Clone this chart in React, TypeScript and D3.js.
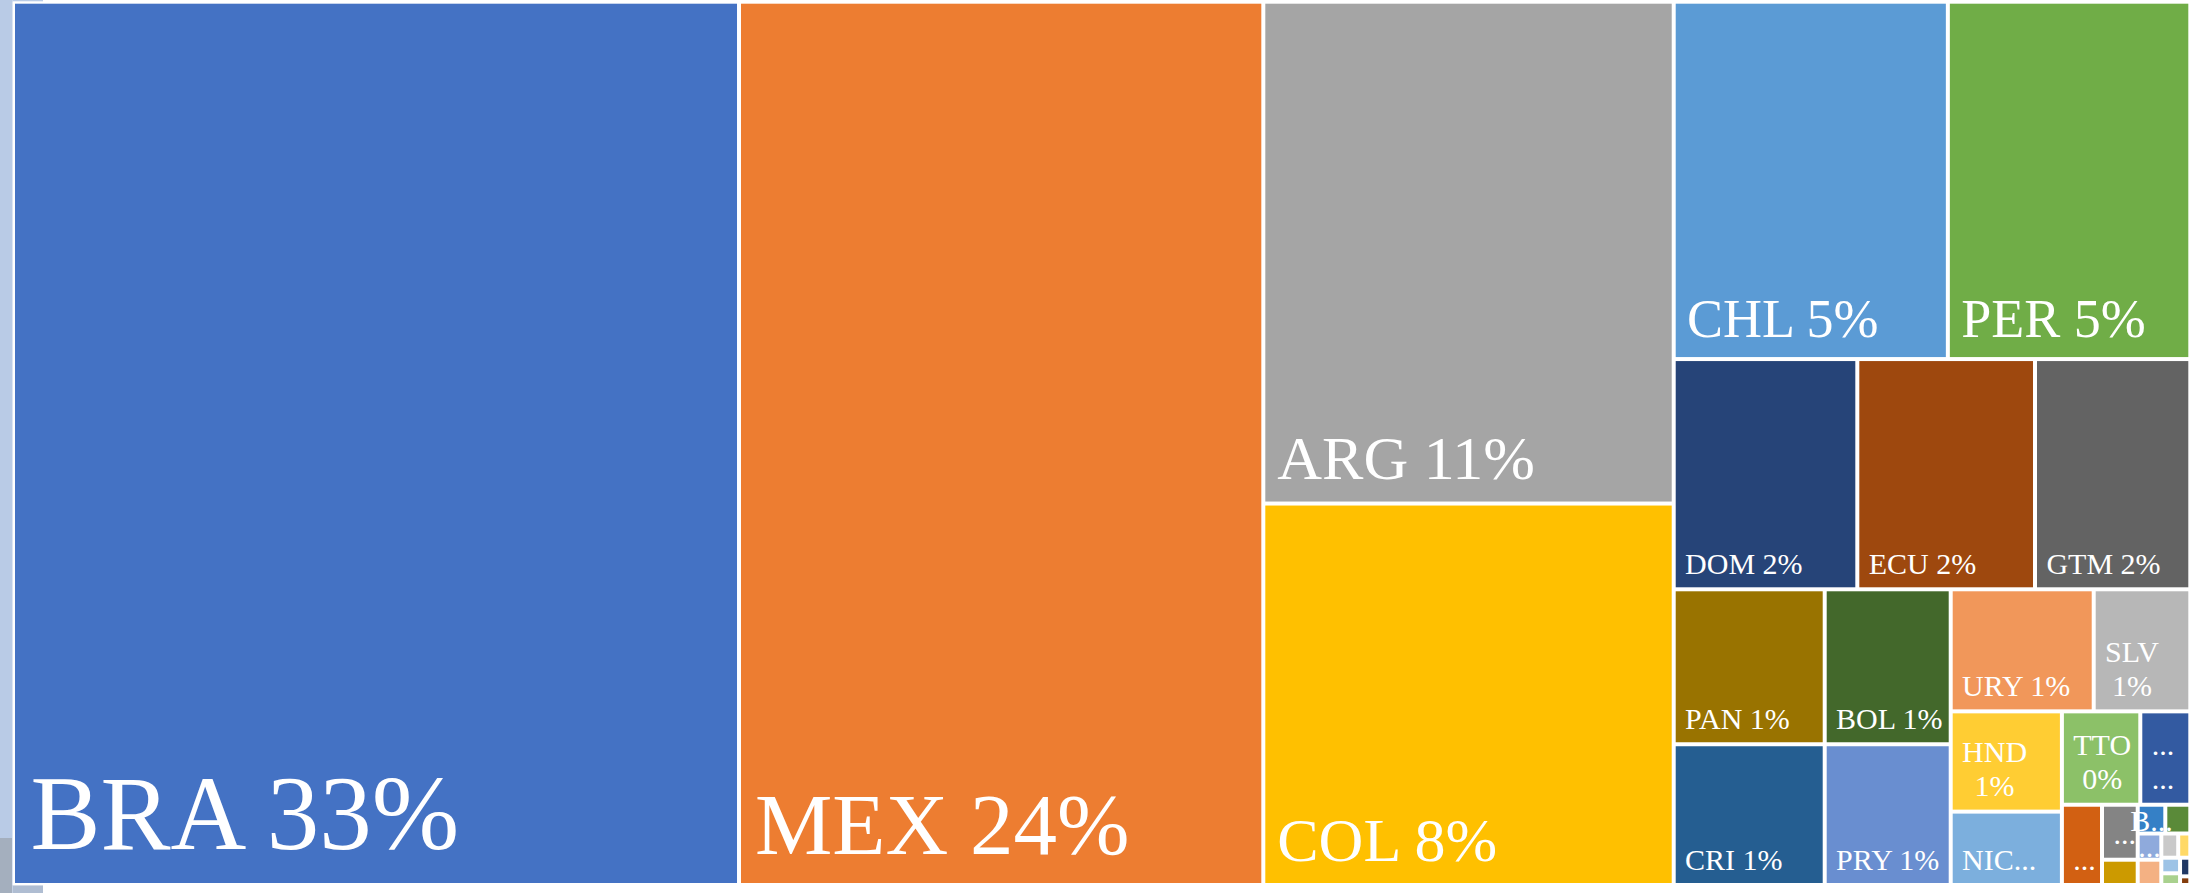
import React, { useMemo } from "react";
import * as d3 from "d3";

const WIDTH = 2203;
const HEIGHT = 893;

// Country codes, in data order (descending share)
const CODES = [
  "BRA", "MEX", "ARG", "COL", "CHL", "PER", "DOM", "ECU", "GTM", "PAN",
  "CRI", "BOL", "PRY", "URY", "SLV", "HND", "NIC", "TTO", "JAM", "HTI",
  "GUY", "SUR", "BHS", "BRB", "BLZ", "LCA", "ATG", "GRD", "VCT", "KNA",
  "DMA", "CUW",
];

// Share of total (percent)
const SHARES = [
  33.344, 24.08, 10.709, 8.14, 5.094, 4.505, 2.1978, 2.1272, 1.859, 1.2166,
  1.1051, 1.0152, 0.9221, 0.9076, 0.6131, 0.5797, 0.4243, 0.3806, 0.2428, 0.16737,
  0.10207, 0.04694, 0.0413, 0.0374, 0.03214, 0.03104, 0.02126, 0.01522, 0.01518, 0.01141,
  0.00994, 0.00461,
];

// Office default palette, in series order
const COLORS = [
  "#4472C4", "#ED7D31", "#A5A5A5", "#FFC000", "#5B9BD5", "#70AD47",
  "#264478", "#9E480E", "#636363", "#997300", "#255E91", "#43682B",
  "#698ED0", "#F1975A", "#B7B7B7", "#FFCD33", "#7CAFDD", "#8CC168",
  "#335AA1", "#D26012", "#848484", "#CC9A00", "#3580C6", "#5A8A39",
  "#8FAADC", "#F4B183", "#C9C9C9", "#FFD966", "#9DC3E6", "#A9D18E",
  "#203864", "#843C0C",
];

// Label font size steps by share (percent)
const FONT_BREAKS = [4, 8, 20, 30];
const FONT_SIZES = [30, 54, 62, 87, 105];

// Labels that Excel draws overflowing tiny cells
const OVERFLOW_LABELS: Record<string, string> = { BHS: "B...", BLZ: "..." };

const FRAME = { left: 13, top: 1.7, right: 2190.3, bottom: 885 };
const GAP = 2;
const FONT = '"Liberation Serif", "Times New Roman", serif';

let ctx: CanvasRenderingContext2D | null = null;
function measure(text: string, size: number): number {
  if (!ctx) ctx = document.createElement("canvas").getContext("2d");
  if (!ctx) return text.length * size * 0.55;
  ctx.font = `${size}px ${FONT}`;
  return ctx.measureText(text).width;
}

function truncate(text: string, size: number, avail: number): string | null {
  if (measure(text, size) <= avail) return text;
  for (let n = text.length - 1; n > 0; n--) {
    const t = text.slice(0, n).trimEnd() + "...";
    if (measure(t, size) <= avail) return t;
  }
  if (measure("...", size) <= avail) return "...";
  return null;
}

type Cell = {
  code: string;
  color: string;
  x: number;
  y: number;
  w: number;
  h: number;
  lines: string[];
  fs: number;
  overflow?: string;
};

export default function App() {
  const cells = useMemo<Cell[]>(() => {
    const data = CODES.map((code, i) => ({ code, value: SHARES[i], color: COLORS[i] }));
    const total = d3.sum(SHARES);
    const root = d3
      .hierarchy<any>({ children: data })
      .sum((d: any) => d.value || 0)
      .sort((a, b) => (b.value || 0) - (a.value || 0));
    d3
      .treemap<any>()
      .tile(d3.treemapSquarify.ratio(1))
      .size([FRAME.right - FRAME.left, FRAME.bottom - FRAME.top])
      .round(false)(root);

    const fontScale = d3.scaleThreshold<number, number>().domain(FONT_BREAKS).range(FONT_SIZES);
    const pct = d3.format(".0%");

    return (root.leaves() as any[]).map((leaf) => {
      const d = leaf.data;
      const x = FRAME.left + leaf.x0 + GAP;
      const y = FRAME.top + leaf.y0 + GAP;
      const w = leaf.x1 - leaf.x0 - 2 * GAP;
      const h = leaf.y1 - leaf.y0 - 2 * GAP;
      const fs = fontScale(d.value);
      const p = pct(d.value / total);
      const full = `${d.code} ${p}`;
      const avail = w - 13;
      const lineH = fs * 1.13;
      let lines: string[] = [];
      if (OVERFLOW_LABELS[d.code]) {
        lines = [];
      } else if (measure(full, fs) <= avail && h >= 40) {
        lines = [full];
      } else if (h >= 2 * lineH + 14) {
        const a = truncate(d.code, fs, avail) ?? (w >= 28 ? "..." : null);
        const b = truncate(p, fs, avail) ?? (w >= 28 ? "..." : null);
        lines = [a, b].filter((s): s is string => !!s);
      } else if (h >= 40) {
        const a = truncate(full, fs, avail) ?? (w >= 28 ? "..." : null);
        lines = a ? [a] : [];
      }
      return {
        code: d.code,
        color: d.color,
        x,
        y,
        w,
        h,
        lines,
        fs,
        overflow: OVERFLOW_LABELS[d.code],
      };
    });
  }, []);

  return (
    <svg
      width={WIDTH}
      height={HEIGHT}
      viewBox={`0 0 ${WIDTH} ${HEIGHT}`}
      style={{ position: "fixed", left: 0, top: 0, background: "#ffffff" }}
      fontFamily={FONT}
    >
      {/* background picture edges */}
      <rect x={0} y={0} width={12.7} height={HEIGHT} fill="#B9CBE6" />
      <rect x={0} y={838} width={12} height={HEIGHT - 838} fill="#A4AFBE" />
      <rect x={12.7} y={0} width={30.3} height={1.6} fill="#B9CBE6" />
      <rect x={12.7} y={885.3} width={30.3} height={HEIGHT - 885.3} fill="#AFBDD2" />
      {/* white frame */}
      <rect
        x={FRAME.left - 0.3}
        y={FRAME.top - 0.2}
        width={FRAME.right - FRAME.left + 0.6}
        height={FRAME.bottom - FRAME.top + 0.4}
        fill="#ffffff"
      />
      {cells.map((c) => (
        <rect key={c.code} x={c.x} y={c.y} width={Math.max(0, c.w)} height={Math.max(0, c.h)} fill={c.color} />
      ))}
      {cells.map((c) => {
        if (c.overflow) {
          return (
            <text
              key={c.code + "-t"}
              x={c.x + c.w / 2}
              y={c.y + c.h - 1}
              fontSize={c.fs}
              fill="#ffffff"
              textAnchor="middle"
            >
              {c.overflow}
            </text>
          );
        }
        if (!c.lines.length) return null;
        const pad = 7 + 0.08 * c.fs;
        const lineH = c.fs * 1.13;
        const base = c.y + c.h - (0.28 * c.fs + 5);
        if (c.lines.length === 1) {
          return (
            <text key={c.code + "-t"} x={c.x + pad} y={base} fontSize={c.fs} fill="#ffffff">
              {c.lines[0]}
            </text>
          );
        }
        const blockW = d3.max(c.lines, (l) => measure(l, c.fs)) || 0;
        const cx = c.x + pad + blockW / 2;
        return (
          <g key={c.code + "-t"}>
            {c.lines.map((l, i) => (
              <text
                key={i}
                x={cx}
                y={base - (c.lines.length - 1 - i) * lineH}
                fontSize={c.fs}
                fill="#ffffff"
                textAnchor="middle"
              >
                {l}
              </text>
            ))}
          </g>
        );
      })}
    </svg>
  );
}
